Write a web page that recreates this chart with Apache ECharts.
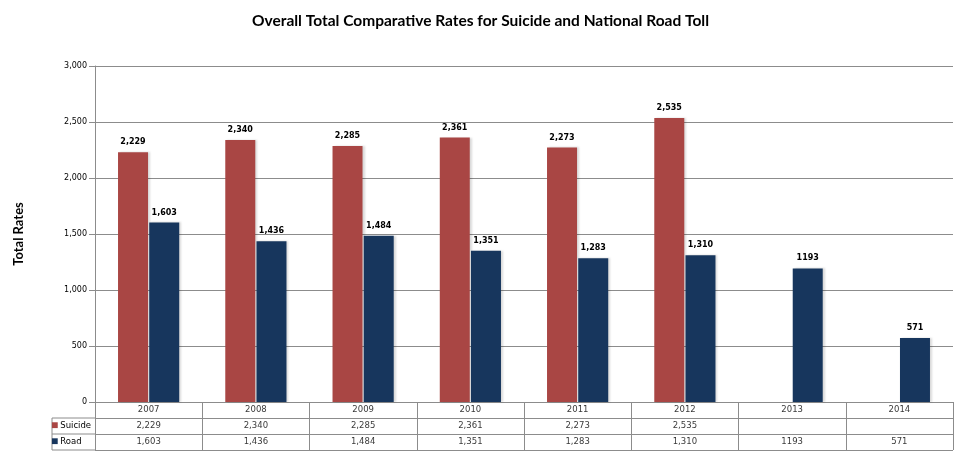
<!DOCTYPE html>
<html>
<head>
<meta charset="utf-8">
<script src="https://cdn.jsdelivr.net/npm/echarts@6/dist/echarts.min.js"></script>
<style>
  html, body { margin: 0; padding: 0; background: #fff; }
  #chart { width: 965px; height: 476px; }
</style>
</head>
<body>
<div id="chart"></div>
<script>
var years = ['2007', '2008', '2009', '2010', '2011', '2012', '2013', '2014'];
var suicide = [2229, 2340, 2285, 2361, 2273, 2535, null, null];
var road = [1603, 1436, 1484, 1351, 1283, 1310, 1193, 571];
// text as printed in the table / on the bars
var suicideText = ['2,229', '2,340', '2,285', '2,361', '2,273', '2,535', '', ''];
var roadText = ['1,603', '1,436', '1,484', '1,351', '1,283', '1,310', '1193', '571'];
var rows = ['Road', 'Suicide', 'Year'];

var red = '#A94644';
var navy = '#17365D';
var lineGray = '#8c8c8c';
var smallFont = 'DejaVu Sans';

// cells of the data table under the plot
var tableCells = [];
years.forEach(function (y, i) {
    tableCells.push([i, 'Year', y]);
    tableCells.push([i, 'Suicide', suicideText[i]]);
    tableCells.push([i, 'Road', roadText[i]]);
});

var chart = echarts.init(document.getElementById('chart'));
var option = {
    backgroundColor: '#fff',
    animation: false,
    title: {
        text: 'Overall Total Comparative Rates for Suicide and National Road Toll',
        left: 247,
        top: 8,
        textStyle: {
            fontFamily: 'Lato',
            fontWeight: 'bold',
            fontSize: 15.5,
            color: '#000'
        }
    },
    grid: [{
        left: 95,
        right: 12,
        top: 66,
        bottom: 74
    }, {
        left: 95,
        right: 12,
        top: 402,
        bottom: 26
    }],
    xAxis: [{
        type: 'category',
        gridIndex: 0,
        data: years,
        axisLine: { lineStyle: { color: lineGray } },
        axisTick: { show: false },
        axisLabel: { show: false }
    }, {
        type: 'category',
        gridIndex: 1,
        data: years,
        axisLine: { show: false },
        axisTick: { show: false },
        axisLabel: { show: false },
        splitLine: { show: true, lineStyle: { color: lineGray } }
    }],
    yAxis: [{
        type: 'value',
        gridIndex: 0,
        min: 0,
        max: 3000,
        interval: 500,
        name: 'Total Rates',
        nameLocation: 'middle',
        nameGap: 70,
        nameTextStyle: {
            fontFamily: 'Lato',
            fontWeight: 'bold',
            fontSize: 13,
            color: '#000'
        },
        axisLine: { show: true, lineStyle: { color: lineGray } },
        axisTick: { show: true, length: 6, lineStyle: { color: lineGray } },
        axisLabel: {
            fontFamily: smallFont,
            fontSize: 8,
            color: '#000',
            margin: 8,
            formatter: function (v) {
                return v.toLocaleString('en-US');
            }
        },
        splitLine: { lineStyle: { color: lineGray } }
    }, {
        type: 'category',
        gridIndex: 1,
        data: rows,
        axisLine: { show: false },
        axisTick: { show: false },
        axisLabel: {
            margin: 4,
            align: 'left',
            padding: [0, 0, 0, -40],
            formatter: function (v) {
                if (v === 'Suicide') return '{r|■}{t|Suicide}';
                if (v === 'Road') return '{n|■}{t|Road}';
                return '';
            },
            rich: {
                r: { color: red, fontSize: 12, padding: [0, 2, 0, 0] },
                n: { color: navy, fontSize: 12, padding: [0, 2, 0, 0] },
                t: { fontFamily: smallFont, fontSize: 8.5, color: '#000' }
            }
        },
        splitLine: { show: true, lineStyle: { color: lineGray } }
    }],
    graphic: [{
        type: 'polyline',
        shape: { points: [[95, 418], [52, 418], [52, 450], [95, 450]] },
        style: { stroke: lineGray, lineWidth: 1, fill: null }
    }, {
        type: 'line',
        shape: { x1: 52, y1: 434, x2: 95, y2: 434 },
        style: { stroke: lineGray, lineWidth: 1 }
    }],
    series: [{
        name: 'Suicide',
        type: 'bar',
        xAxisIndex: 0,
        yAxisIndex: 0,
        barWidth: 30,
        barGap: '4%',
        data: suicide,
        itemStyle: {
            color: red,
            shadowColor: 'rgba(0,0,0,0.15)',
            shadowOffsetX: 2,
            shadowBlur: 2
        },
        label: {
            show: true,
            position: 'top',
            distance: 6,
            fontFamily: smallFont,
            fontWeight: 'bold',
            fontSize: 8,
            color: '#000',
            formatter: function (p) { return suicideText[p.dataIndex]; }
        }
    }, {
        name: 'Road',
        type: 'bar',
        xAxisIndex: 0,
        yAxisIndex: 0,
        barWidth: 30,
        data: road,
        itemStyle: {
            color: navy,
            shadowColor: 'rgba(0,0,0,0.15)',
            shadowOffsetX: 2,
            shadowBlur: 2
        },
        label: {
            show: true,
            position: 'top',
            distance: 6,
            fontFamily: smallFont,
            fontWeight: 'bold',
            fontSize: 8,
            color: '#000',
            formatter: function (p) { return roadText[p.dataIndex]; }
        }
    }, {
        name: 'table',
        type: 'scatter',
        xAxisIndex: 1,
        yAxisIndex: 1,
        symbolSize: 1,
        itemStyle: { color: 'rgba(0,0,0,0)' },
        silent: true,
        data: tableCells,
        label: {
            show: true,
            position: 'inside',
            fontFamily: smallFont,
            fontSize: 8.5,
            color: '#000',
            formatter: function (p) { return p.data[2]; }
        }
    }]
};
chart.setOption(option);
</script>
</body>
</html>
